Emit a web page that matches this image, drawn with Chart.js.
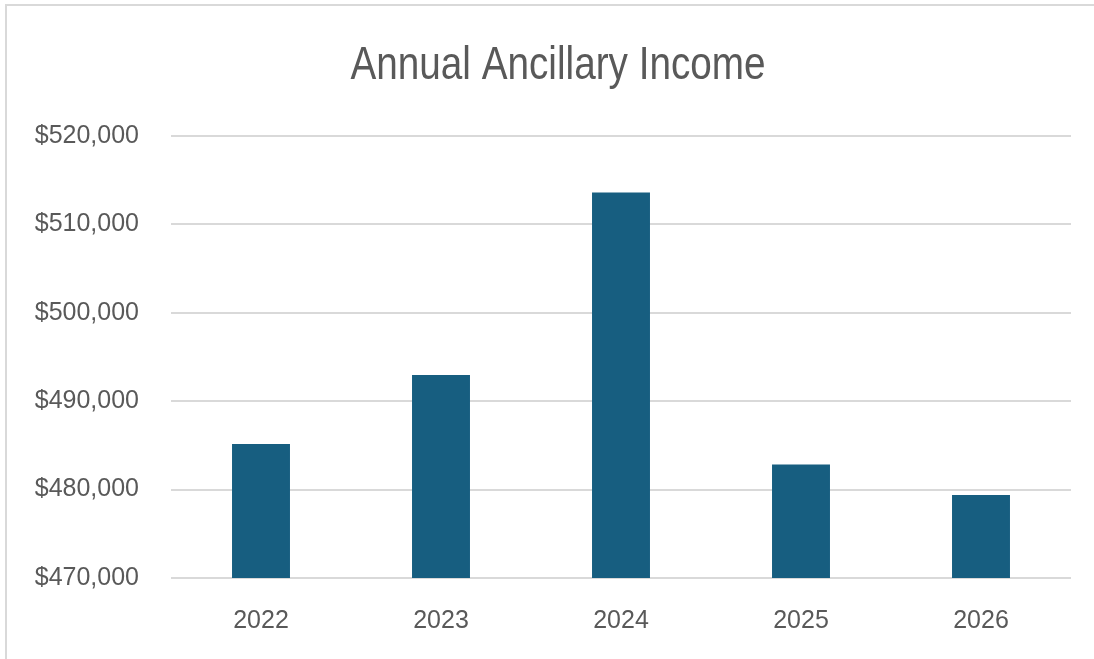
<!DOCTYPE html>
<html>
<head>
<meta charset="utf-8">
<script src="https://cdn.jsdelivr.net/npm/chart.js@4"></script>
<style>
  html, body { margin: 0; padding: 0; background: #fff; overflow: hidden; }
  #card {
    position: absolute;
    left: 5px;
    top: 4px;
    width: 1105px;
    height: 655px;
    border-left: 2px solid #d9d9d9;
    border-top: 2px solid #d9d9d9;
  }
  #chart { display: block; }
</style>
</head>
<body>
<div id="card">
  <canvas id="chart" width="1105" height="653"></canvas>
</div>
<script>
const years = ["2022", "2023", "2024", "2025", "2026"];
const income = [485150, 492950, 513600, 482850, 479400];
const yMin = 470000;
const yMax = 520000;
const yStep = 10000;
const chartTitle = "Annual Ancillary Income";

const textColor = "#595959";
const barColor = "#175e80";

function money(v) {
  return "$" + v.toLocaleString("en-US");
}

// narrow title like the original (no condensed font installed, so squeeze it)
const narrowTitle = {
  id: "narrowTitle",
  afterDraw(chart) {
    const ctx = chart.ctx;
    ctx.save();
    ctx.font = "47px 'Liberation Sans', Arial";
    ctx.fillStyle = textColor;
    ctx.textAlign = "center";
    ctx.textBaseline = "alphabetic";
    ctx.translate(551, 73);
    ctx.scale(0.823, 1);
    ctx.fillText(chartTitle, 0, 0);
    ctx.restore();
  }
};

new Chart(document.getElementById("chart"), {
  type: "bar",
  data: {
    labels: years,
    datasets: [{
      label: chartTitle,
      data: income,
      backgroundColor: barColor,
      categoryPercentage: 1,
      barPercentage: 0.322
    }]
  },
  plugins: [narrowTitle],
  options: {
    responsive: false,
    animation: false,
    layout: {
      padding: { left: 0, right: 41, top: 130, bottom: 0 }
    },
    plugins: {
      legend: { display: false },
      tooltip: { enabled: false },
      title: { display: false }
    },
    scales: {
      x: {
        grid: { display: false },
        border: { display: false },
        ticks: {
          color: textColor,
          font: { family: "'Liberation Sans', Arial", size: 25 },
          padding: 20
        },
        afterFit: s => { s.height = 81; }
      },
      y: {
        min: yMin,
        max: yMax,
        grid: { color: "#d9d9d9", lineWidth: 2, drawTicks: false },
        border: { display: false },
        ticks: {
          stepSize: yStep,
          color: textColor,
          font: { family: "'Liberation Sans', Arial", size: 25 },
          padding: 32,
          callback: v => money(v)
        },
        afterFit: s => { s.width = 164; }
      }
    }
  }
});
</script>
</body>
</html>
